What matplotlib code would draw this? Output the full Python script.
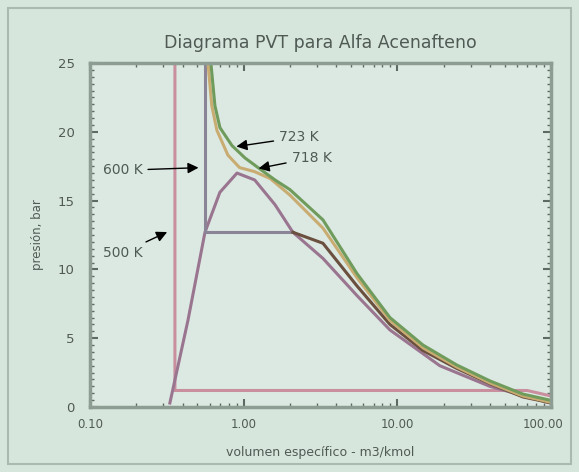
import matplotlib
matplotlib.use("Agg")
import matplotlib.pyplot as plt
import matplotlib.transforms as mtransforms
from matplotlib.ticker import FixedLocator, MultipleLocator, NullFormatter, LogLocator
from matplotlib.patches import Rectangle

# ---- data (specific volume m3/kmol, pressure bar) ----
v_500 = [0.357, 0.357, 70.0, 100.0]
p_500 = [25.0, 1.2, 1.2, 0.8]

v_600 = [0.56, 0.56, 2.09, 3.28, 5.46, 8.95, 14.7, 24.4, 40.0, 65.6, 100.0]
p_600 = [25.0, 12.7, 12.7, 11.9, 8.8, 6.0, 4.1, 2.8, 1.7, 0.73, 0.3]

v_718 = [0.586, 0.62, 0.67, 0.79, 0.94, 1.18, 1.49, 2.0, 3.28, 5.46, 8.95, 14.7, 24.4, 40.0, 65.6, 100.0]
p_718 = [25.0, 21.9, 20.1, 18.3, 17.4, 17.1, 16.6, 15.4, 13.0, 9.4, 6.3, 4.3, 2.9, 1.75, 0.8, 0.34]

v_723 = [0.612, 0.650, 0.701, 0.839, 1.02, 1.24, 1.60, 2.00, 3.28, 5.46, 8.95, 14.7, 24.4, 40.0, 65.6, 100.0]
p_723 = [25.0, 21.9, 20.3, 19.0, 18.1, 17.4, 16.5, 15.8, 13.6, 9.7, 6.5, 4.5, 3.05, 1.9, 0.94, 0.48]

v_dome = [0.331, 0.434, 0.56, 0.70, 0.905, 1.18, 1.60, 2.09, 3.28, 5.46, 8.95, 18.9, 40.0, 100.0]
p_dome = [0.29, 6.3, 12.7, 15.6, 17.0, 16.5, 14.7, 12.7, 10.8, 8.1, 5.6, 3.0, 1.5, 0.27]

x_ticks = [0.1, 1.0, 10.0, 100.0]
x_tick_labels = ["0.10", "1.00", "10.00", "100.00"]
y_ticks = [0, 5, 10, 15, 20, 25]
y_tick_labels = ["0", "5", "10", "15", "20", "25"]

title = "Diagrama PVT para Alfa Acenafteno"
xlabel = "volumen específico - m3/kmol"
ylabel = "presión, bar"

bg = "#d7e6dd"
txt = "#4f5a54"

fig = plt.figure(figsize=(5.79, 4.72), dpi=100, facecolor=bg)
ax = fig.add_axes([90/579, 1-407/472, 461/579, 344/472])
ax.set_facecolor("#dce9e2")

# outer frame
fig.patches.append(Rectangle((8/579, 8/472), 563/579, 456/472, transform=fig.transFigure,
                             fill=False, edgecolor="#a9b9af", lw=1.5))

lw = 2.2
ax.plot(v_500, p_500, color="#c98f9f", lw=lw, solid_joinstyle="miter")
ax.plot(v_dome, p_dome, color="#9a7590", lw=lw)
ax.plot(v_600[:3], p_600[:3], color="#8a8496", lw=lw)
ax.plot(v_600[2:], p_600[2:], color="#6b4f3f", lw=lw)
ax.plot(v_718, p_718, color="#c9ac72", lw=lw)
ax.plot(v_723, p_723, color="#6f9c5c", lw=lw)

ax.set_xscale("log")
ax.set_xlim(0.1, 100)
ax.set_ylim(0, 25)
ax.xaxis.set_major_locator(FixedLocator(x_ticks))
ax.set_xticklabels(x_tick_labels)
ax.xaxis.set_minor_locator(LogLocator(base=10, subs=range(2, 10)))
ax.xaxis.set_minor_formatter(NullFormatter())
ax.yaxis.set_major_locator(FixedLocator(y_ticks))
ax.set_yticklabels(y_tick_labels)
ax.yaxis.set_minor_locator(MultipleLocator(0.5))

for s in ax.spines.values():
    s.set_color("#8d9d94")
    s.set_linewidth(2.5)
ax.tick_params(which="major", direction="in", length=6, width=1.5, color="#5d6a63",
               labelcolor=txt, top=True, right=True, pad=8)
ax.tick_params(which="minor", direction="in", length=3, width=1.0, color="#5d6a63",
               top=True, right=True)
ax.tick_params(axis="x", which="major", labelsize=8.5)
ax.tick_params(axis="y", which="major", pad=11, labelsize=9.5)

# nudge the last x tick label inward so it stays inside the frame
last = ax.get_xticklabels()[-1]
last.set_transform(last.get_transform() + mtransforms.ScaledTranslation(-8/100, 0, fig.dpi_scale_trans))

ax.set_title(title, fontsize=12.5, color=txt, pad=11)
ax.set_xlabel(xlabel, fontsize=9, color=txt, labelpad=11)
ax.set_ylabel(ylabel, fontsize=8.5, color=txt, labelpad=10)

arrow = dict(arrowstyle="-|>", color="black", lw=1.0, mutation_scale=16)
fs = 10
ax.annotate("600 K", xy=(0.53, 17.4), xytext=(0.121, 17.2), fontsize=fs, color=txt,
            va="center", arrowprops=arrow)
ax.annotate("500 K", xy=(0.33, 12.8), xytext=(0.121, 11.2), fontsize=fs, color=txt,
            va="center", arrowprops=arrow)
ax.annotate("723 K", xy=(0.86, 18.9), xytext=(1.7, 19.6), fontsize=fs, color=txt,
            va="center", arrowprops=arrow)
ax.annotate("718 K", xy=(1.2, 17.3), xytext=(2.05, 18.1), fontsize=fs, color=txt,
            va="center", arrowprops=arrow)

fig.savefig("out.png", dpi=100, facecolor=bg)
